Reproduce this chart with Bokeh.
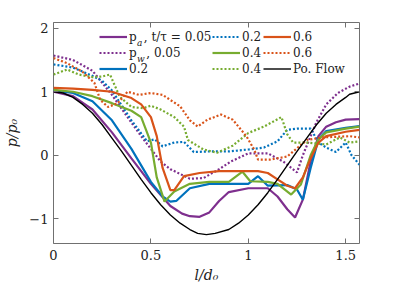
from bokeh.plotting import figure
from bokeh.models import Range1d, FixedTicker, LinearAxis, Legend, LegendItem, Label
from bokeh.embed import file_html
from bokeh.resources import INLINE

# ---------------- data ----------------
pf_x = [0, 0.05, 0.1, 0.15, 0.2, 0.25, 0.3, 0.35, 0.4, 0.45, 0.5, 0.55, 0.6, 0.65, 0.7, 0.74, 0.785,
        0.83, 0.9, 0.95, 1.0, 1.05, 1.1, 1.15, 1.2, 1.25, 1.3, 1.35, 1.4, 1.45, 1.5, 1.52, 1.571]
pf_y = [1.0, 0.98, 0.91, 0.8, 0.66, 0.48, 0.27, 0.06, -0.16, -0.38, -0.59, -0.78, -0.94, -1.07, -1.17, -1.23, -1.25,
        -1.23, -1.17, -1.07, -0.94, -0.78, -0.59, -0.38, -0.16, 0.06, 0.27, 0.48, 0.66, 0.8, 0.91, 0.96, 1.0]

pa05_x = [0, 0.1, 0.2, 0.3, 0.4, 0.5, 0.6, 0.66, 0.7, 0.75, 0.8, 0.85, 0.9, 1.0, 1.1, 1.15, 1.2, 1.24, 1.28,
          1.32, 1.36, 1.4, 1.45, 1.5, 1.571]
pa05_y = [1.0, 0.93, 0.72, 0.36, -0.05, -0.45, -0.8, -0.92, -0.96, -0.97, -0.9, -0.72, -0.58, -0.52, -0.52,
          -0.65, -0.85, -0.98, -0.7, -0.1, 0.3, 0.45, 0.52, 0.56, 0.57]

pw05_x = [0, 0.1, 0.2, 0.3, 0.38, 0.45, 0.5, 0.55, 0.6, 0.7, 0.77, 0.85, 0.91, 1.0, 1.1, 1.18, 1.25, 1.28,
          1.32, 1.35, 1.4, 1.46, 1.52, 1.571]
pw05_y = [1.57, 1.5, 1.33, 0.95, 0.6, 0.3, 0.1, -0.1, -0.22, -0.37, -0.36, -0.22, -0.1, 0.03, 0.03, -0.1,
          -0.27, 0.0, 0.3, 0.52, 0.8, 0.98, 1.08, 1.13]

pa20_x = [0, 0.1, 0.2, 0.3, 0.4, 0.5, 0.56, 0.6, 0.63, 0.7, 0.8, 0.9, 1.0, 1.05, 1.1, 1.2, 1.25, 1.28,
          1.32, 1.36, 1.4, 1.5, 1.571]
pa20_y = [1.02, 0.98, 0.85, 0.55, 0.1, -0.42, -0.65, -0.73, -0.72, -0.52, -0.45, -0.45, -0.45, -0.33,
          -0.48, -0.47, -0.54, -0.7, -0.2, 0.25, 0.38, 0.43, 0.46]

pw20_x = [0, 0.1, 0.2, 0.25, 0.3, 0.4, 0.48, 0.52, 0.56, 0.62, 0.67, 0.72, 0.8, 0.9, 1.0, 1.08, 1.15,
          1.2, 1.25, 1.32, 1.36, 1.4, 1.45, 1.5, 1.53, 1.571]
pw20_y = [1.43, 1.38, 1.25, 1.17, 1.02, 0.55, 0.22, 0.25, 0.14, 0.2, 0.21, 0.05, 0.06, 0.06, 0.09, 0.12,
          0.22, 0.4, 0.42, 0.42, 0.2, 0.12, 0.05, 0.2, 0.0, -0.15]

pa40_x = [0, 0.1, 0.2, 0.3, 0.4, 0.45, 0.5, 0.53, 0.57, 0.62, 0.7, 0.8, 0.9, 0.97, 1.01, 1.1, 1.15,
          1.22, 1.27, 1.32, 1.36, 1.4, 1.5, 1.571]
pa40_y = [1.03, 1.0, 0.93, 0.82, 0.7, 0.6, 0.2, -0.35, -0.73, -0.57, -0.45, -0.42, -0.42, -0.26, -0.41,
          -0.42, -0.45, -0.62, -0.46, 0.0, 0.25, 0.36, 0.42, 0.45]

pw40_x = [0, 0.07, 0.13, 0.2, 0.25, 0.29, 0.34, 0.4, 0.46, 0.5, 0.55, 0.62, 0.67, 0.69, 0.77, 0.84,
          0.92, 1.0, 1.08, 1.14, 1.17, 1.2, 1.23, 1.3, 1.4, 1.47, 1.52, 1.571]
pw40_y = [1.27, 1.35, 1.27, 1.23, 1.24, 1.27, 0.92, 0.76, 0.74, 0.78, 0.72, 0.6, 0.45, 0.24, 0.09, 0.04,
          0.15, 0.35, 0.45, 0.55, 0.6, 0.33, 0.2, 0.2, 0.17, 0.28, 0.2, 0.22]

pa60_x = [0, 0.1, 0.2, 0.3, 0.4, 0.45, 0.5, 0.53, 0.56, 0.6, 0.62, 0.67, 0.75, 0.85, 0.95, 1.05, 1.1,
          1.15, 1.2, 1.24, 1.28, 1.32, 1.36, 1.4, 1.5, 1.571]
pa60_y = [1.06, 1.05, 1.03, 1.0, 0.9, 0.8, 0.6, 0.3, -0.2, -0.55, -0.55, -0.33, -0.28, -0.25, -0.25,
          -0.25, -0.28, -0.38, -0.48, -0.52, -0.35, -0.05, 0.2, 0.3, 0.37, 0.4]

pw60_x = [0, 0.07, 0.15, 0.21, 0.24, 0.28, 0.33, 0.38, 0.44, 0.5, 0.56, 0.65, 0.7, 0.74, 0.79, 0.86,
          0.92, 0.99, 1.03, 1.05, 1.11, 1.2, 1.3, 1.38, 1.52, 1.571]
pw60_y = [1.53, 1.45, 1.31, 1.14, 0.87, 0.76, 0.82, 1.0, 0.95, 0.98, 0.95, 0.77, 0.55, 0.45, 0.56, 0.64,
          0.56, 0.3, 0.09, -0.07, -0.07, -0.02, 0.24, 0.28, 0.3, 0.28]

x_ticks = [0, 0.5, 1, 1.5]
x_tick_labels = ["0", "0.5", "1", "1.5"]
y_ticks = [-1, 0, 1, 2]

PURPLE = "#7E2F8E"
BLUE = "#0072BD"
GREEN = "#77AC30"
ORANGE = "#D95319"
FONT = "DejaVu Serif"
GRAY = "#707070"

p = figure(width=395, height=285, output_backend="svg", toolbar_location=None,
           x_range=Range1d(0, 1.5708), y_range=Range1d(-1.39, 2.09),
           min_border_left=53, min_border_right=36, min_border_top=22, min_border_bottom=41)
p.xgrid.visible = False
p.ygrid.visible = False
p.outline_line_color = GRAY
p.outline_line_width = 1

W = 2.2
DOT = "2 2"
r1 = p.line(pa05_x, pa05_y, line_color=PURPLE, line_width=W)
r2 = p.line(pw05_x, pw05_y, line_color=PURPLE, line_width=W, line_dash=DOT)
r3 = p.line(pa20_x, pa20_y, line_color=BLUE, line_width=W)
r4 = p.line(pw20_x, pw20_y, line_color=BLUE, line_width=W, line_dash=DOT)
r5 = p.line(pa40_x, pa40_y, line_color=GREEN, line_width=W)
r6 = p.line(pw40_x, pw40_y, line_color=GREEN, line_width=W, line_dash=DOT)
r7 = p.line(pa60_x, pa60_y, line_color=ORANGE, line_width=W)
r8 = p.line(pw60_x, pw60_y, line_color=ORANGE, line_width=W, line_dash=DOT)
r9 = p.line(pf_x, pf_y, line_color="black", line_width=1.4)

overrides = {float(t): s for t, s in zip(x_ticks, x_tick_labels)}


def style_axis(ax, show_labels=True):
    ax.axis_line_color = None
    ax.major_tick_in = 5
    ax.major_tick_out = 0
    ax.minor_tick_line_color = None
    ax.major_tick_line_color = GRAY
    if show_labels:
        ax.major_label_text_font = FONT
        ax.major_label_text_font_size = "13px"
        ax.major_label_text_color = "#222222"
        ax.axis_label_text_font = FONT
        ax.axis_label_text_font_size = "14px"
        ax.axis_label_text_font_style = "italic"
        ax.axis_label_text_color = "#222222"
    else:
        ax.major_label_text_font_size = "0px"
        ax.major_label_text_color = None
        ax.major_label_standoff = 0


p.xaxis.ticker = FixedTicker(ticks=x_ticks)
p.xaxis.major_label_overrides = overrides
p.xaxis.axis_label = "l/d\u2080"
p.xaxis.major_label_standoff = 6
p.xaxis.axis_label_standoff = 4
style_axis(p.xaxis[0])

p.yaxis.ticker = FixedTicker(ticks=y_ticks)
p.yaxis.axis_label = "p/p\u2080"
p.yaxis.major_label_standoff = 5
p.yaxis.axis_label_standoff = 6
style_axis(p.yaxis[0])

top = LinearAxis(ticker=FixedTicker(ticks=x_ticks))
style_axis(top, show_labels=False)
p.add_layout(top, "above")
right = LinearAxis(ticker=FixedTicker(ticks=y_ticks))
style_axis(right, show_labels=False)
p.add_layout(right, "right")


def mk_legend(items, x):
    lg = Legend(items=items, location=(x, 167), orientation="vertical",
                glyph_width=28, glyph_height=15, label_height=15, label_standoff=2,
                spacing=1, padding=0, margin=0, border_line_color=None,
                background_fill_alpha=0, label_text_font=FONT, label_text_font_size="12px",
                label_text_color="#222222")
    p.add_layout(lg)
    return lg


mk_legend([LegendItem(label="p\u2009\u2009\u2009, t/\u03c4 = 0.05", renderers=[r1]),
           LegendItem(label="p\u2009\u2009\u2009\u2009, 0.05", renderers=[r2]),
           LegendItem(label="0.2", renderers=[r3])], 46)
mk_legend([LegendItem(label="0.2", renderers=[r4]),
           LegendItem(label="0.4", renderers=[r5]),
           LegendItem(label="0.4", renderers=[r6])], 159)
mk_legend([LegendItem(label="0.6", renderers=[r7]),
           LegendItem(label="0.6", renderers=[r8]),
           LegendItem(label="Po. Flow", renderers=[r9])], 210)

for txt, yy in [("a", 200.5), ("w", 184.5)]:
    p.add_layout(Label(x=83.5, y=yy, x_units="screen", y_units="screen", text=txt,
                       text_font=FONT, text_font_size="9px", text_font_style="italic",
                       text_color="#222222", text_baseline="alphabetic"))

open("out.html", "w").write(file_html(p, INLINE))
